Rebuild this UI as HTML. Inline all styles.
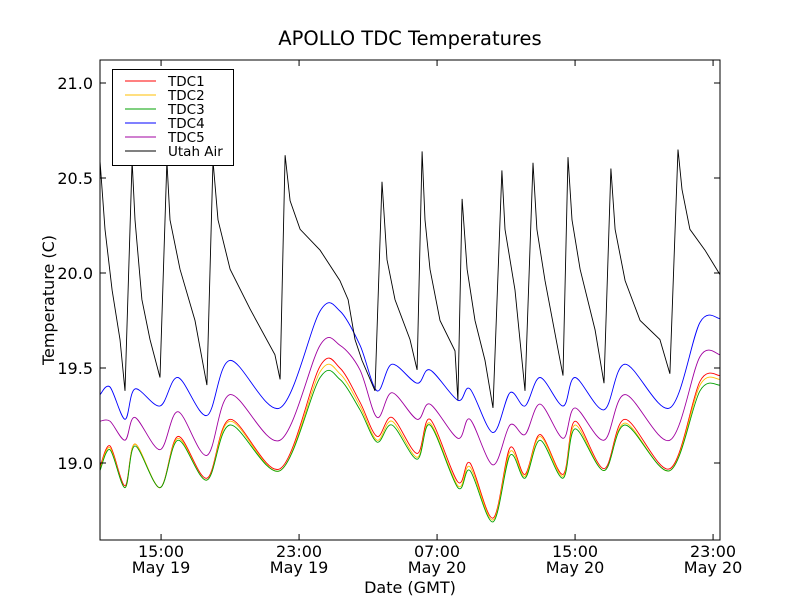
<!DOCTYPE html>
<html><head><meta charset="utf-8"><style>
body{margin:0;background:#fff;}
svg text{font-family:"DejaVu Sans","Liberation Sans",sans-serif;}
</style></head><body>
<svg id="chart" width="800" height="600" xmlns="http://www.w3.org/2000/svg">
<rect width="800" height="600" fill="#fff"/>
<text x="410" y="45" text-anchor="middle" font-size="19.5">APOLLO TDC Temperatures</text>
<g id="plot"></g>
<rect x="100" y="60" width="620" height="480" fill="none" stroke="#000" stroke-width="1"/>
<g id="axes"></g>
<text transform="translate(54,300) rotate(-90)" text-anchor="middle" font-size="16">Temperature (C)</text>
<text x="410" y="593" text-anchor="middle" font-size="16">Date (GMT)</text>
<g id="legend"></g>
</svg>
<script>
const tdcTimes=[11.46,12.04,12.91,13.49,14.94,15.98,17.66,19.00,21.90,24.22,25.37,26.53,27.52,28.39,29.84,30.59,32.21,32.91,34.24,35.23,36.10,36.97,38.30,39.00,40.68,41.90,44.50,46.24,47.41];
const tdc1=[18.98,19.09,18.88,19.10,18.87,19.14,18.92,19.23,18.97,19.51,19.50,19.32,19.14,19.24,19.05,19.23,18.90,19.00,18.71,19.08,18.94,19.15,18.94,19.22,18.97,19.23,18.97,19.43,19.46];
const tdc2=[18.97,19.08,18.87,19.10,18.87,19.13,18.91,19.22,18.96,19.48,19.47,19.30,19.12,19.22,19.03,19.21,18.88,18.98,18.70,19.06,18.93,19.14,18.93,19.20,18.96,19.21,18.96,19.41,19.44];
const tdc3=[18.96,19.07,18.87,19.09,18.87,19.12,18.91,19.20,18.96,19.45,19.44,19.28,19.11,19.20,19.02,19.20,18.87,18.96,18.69,19.04,18.92,19.12,18.92,19.18,18.96,19.20,18.96,19.38,19.41];
const tdc4=[19.36,19.40,19.23,19.39,19.30,19.45,19.25,19.54,19.29,19.80,19.80,19.62,19.38,19.52,19.42,19.49,19.33,19.39,19.16,19.37,19.30,19.45,19.30,19.45,19.28,19.52,19.29,19.74,19.76];
const tdc5=[19.22,19.22,19.12,19.24,19.07,19.27,19.04,19.36,19.12,19.62,19.62,19.49,19.24,19.37,19.23,19.31,19.13,19.23,18.99,19.20,19.15,19.31,19.13,19.29,19.12,19.36,19.12,19.56,19.57];
const airTimes=[11.46,11.75,12.16,12.62,12.91,13.32,13.49,13.89,14.36,14.94,15.34,15.52,16.10,16.97,17.66,18.01,18.30,19.00,20.16,21.60,21.90,22.19,22.48,23.06,24.22,25.37,25.84,26.24,26.65,27.40,27.81,28.10,28.56,29.43,29.84,30.13,30.30,30.59,31.17,32.04,32.21,32.45,32.74,33.20,33.78,34.24,34.76,34.94,35.52,36.10,36.56,36.79,37.26,38.13,38.30,38.59,38.82,39.29,40.16,40.68,41.08,41.32,41.90,42.77,43.92,44.50,44.97,45.20,45.66,46.53,47.41];
const air=[20.59,20.23,19.91,19.65,19.38,20.59,20.28,19.86,19.65,19.45,20.59,20.28,20.02,19.75,19.41,20.59,20.28,20.02,19.81,19.57,19.44,20.62,20.38,20.23,20.12,19.96,19.86,19.65,19.54,19.38,20.48,20.07,19.86,19.65,19.49,20.64,20.28,20.02,19.75,19.59,19.33,20.39,20.02,19.75,19.54,19.29,20.54,20.23,19.91,19.38,20.58,20.23,19.96,19.54,19.46,20.61,20.28,20.02,19.70,19.42,20.55,20.23,19.96,19.75,19.65,19.47,20.65,20.44,20.23,20.12,19.99];
const yTicks=[19.0,19.5,20.0,20.5,21.0];
const xTickTimes=[15,23,31,39,47];
const xTickLabels=["15:00","23:00","07:00","15:00","23:00"];
const xTickDates=["May 19","May 19","May 20","May 20","May 20"];
const seriesNames=["TDC1","TDC2","TDC3","TDC4","TDC5","Utah Air"];
const seriesColors=["#ff0000","#ffbf00","#00a000","#0000ff","#a000a0","#000000"];

const X=t=>100+(t-11.46)*17.25;
const Y=v=>83+(21-v)*190;
const NS="http://www.w3.org/2000/svg";
function mk(tag,attrs,parent){const e=document.createElementNS(NS,tag);for(const k in attrs)e.setAttribute(k,attrs[k]);parent.appendChild(e);return e;}
function smoothPath(pts){
  let d='M'+pts[0][0].toFixed(1)+','+pts[0][1].toFixed(1);
  for(let i=0;i<pts.length-1;i++){
    const p0=pts[Math.max(0,i-1)],p1=pts[i],p2=pts[i+1],p3=pts[Math.min(pts.length-1,i+2)];
    const k=0.16;
    const c1=[p1[0]+(p2[0]-p0[0])*k,p1[1]+(p2[1]-p0[1])*k];
    const c2=[p2[0]-(p3[0]-p1[0])*k,p2[1]-(p3[1]-p1[1])*k];
    d+='C'+c1.map(v=>v.toFixed(1)).join(',')+' '+c2.map(v=>v.toFixed(1)).join(',')+' '+p2[0].toFixed(1)+','+p2[1].toFixed(1);
  }
  return d;
}
const plot=document.getElementById('plot'),axes=document.getElementById('axes'),legend=document.getElementById('legend');
const series=[[tdcTimes,tdc1],[tdcTimes,tdc2],[tdcTimes,tdc3],[tdcTimes,tdc4],[tdcTimes,tdc5],[airTimes,air]];
series.forEach((s,i)=>{
  const pts=s[0].map((t,j)=>[X(t),Y(s[1][j])]);
  const d=i<5?smoothPath(pts):pts.map((p,j)=>(j?'L':'M')+p[0].toFixed(1)+','+p[1].toFixed(1)).join('');
  const p=mk('path',{d:d,fill:'none',stroke:seriesColors[i],'stroke-width':0.9},plot);
  
  
});
yTicks.forEach(v=>{
  const y=Y(v);
  mk('line',{x1:100,x2:106,y1:y,y2:y,stroke:'#000'},axes);
  mk('line',{x1:714,x2:720,y1:y,y2:y,stroke:'#000'},axes);
  const t=mk('text',{x:93,y:y+6,'text-anchor':'end','font-size':16},axes);
  t.textContent=v.toFixed(1);
  
  
});
xTickTimes.forEach((tt,i)=>{
  const x=X(tt);
  mk('line',{x1:x,x2:x,y1:534,y2:540,stroke:'#000'},axes);
  mk('line',{x1:x,x2:x,y1:60,y2:66,stroke:'#000'},axes);
  const t=mk('text',{x:x,y:557,'text-anchor':'middle','font-size':16},axes);
  t.textContent=xTickLabels[i];
  
  
  const t2=mk('text',{x:x,y:573,'text-anchor':'middle','font-size':16},axes);
  t2.textContent=xTickDates[i];
  
  
});
const box=mk('rect',{x:112.5,y:69.5,width:121,height:96,fill:'#fff',stroke:'#000'},legend);


seriesNames.forEach((n,i)=>{
  const y=81+i*14;
  mk('line',{x1:125,x2:156,y1:y,y2:y,stroke:seriesColors[i],'stroke-width':0.9},legend);
  const t=mk('text',{x:168,y:y+5,'font-size':13.5},legend);
  t.textContent=n;
  
  
});
</script>
</body></html>
